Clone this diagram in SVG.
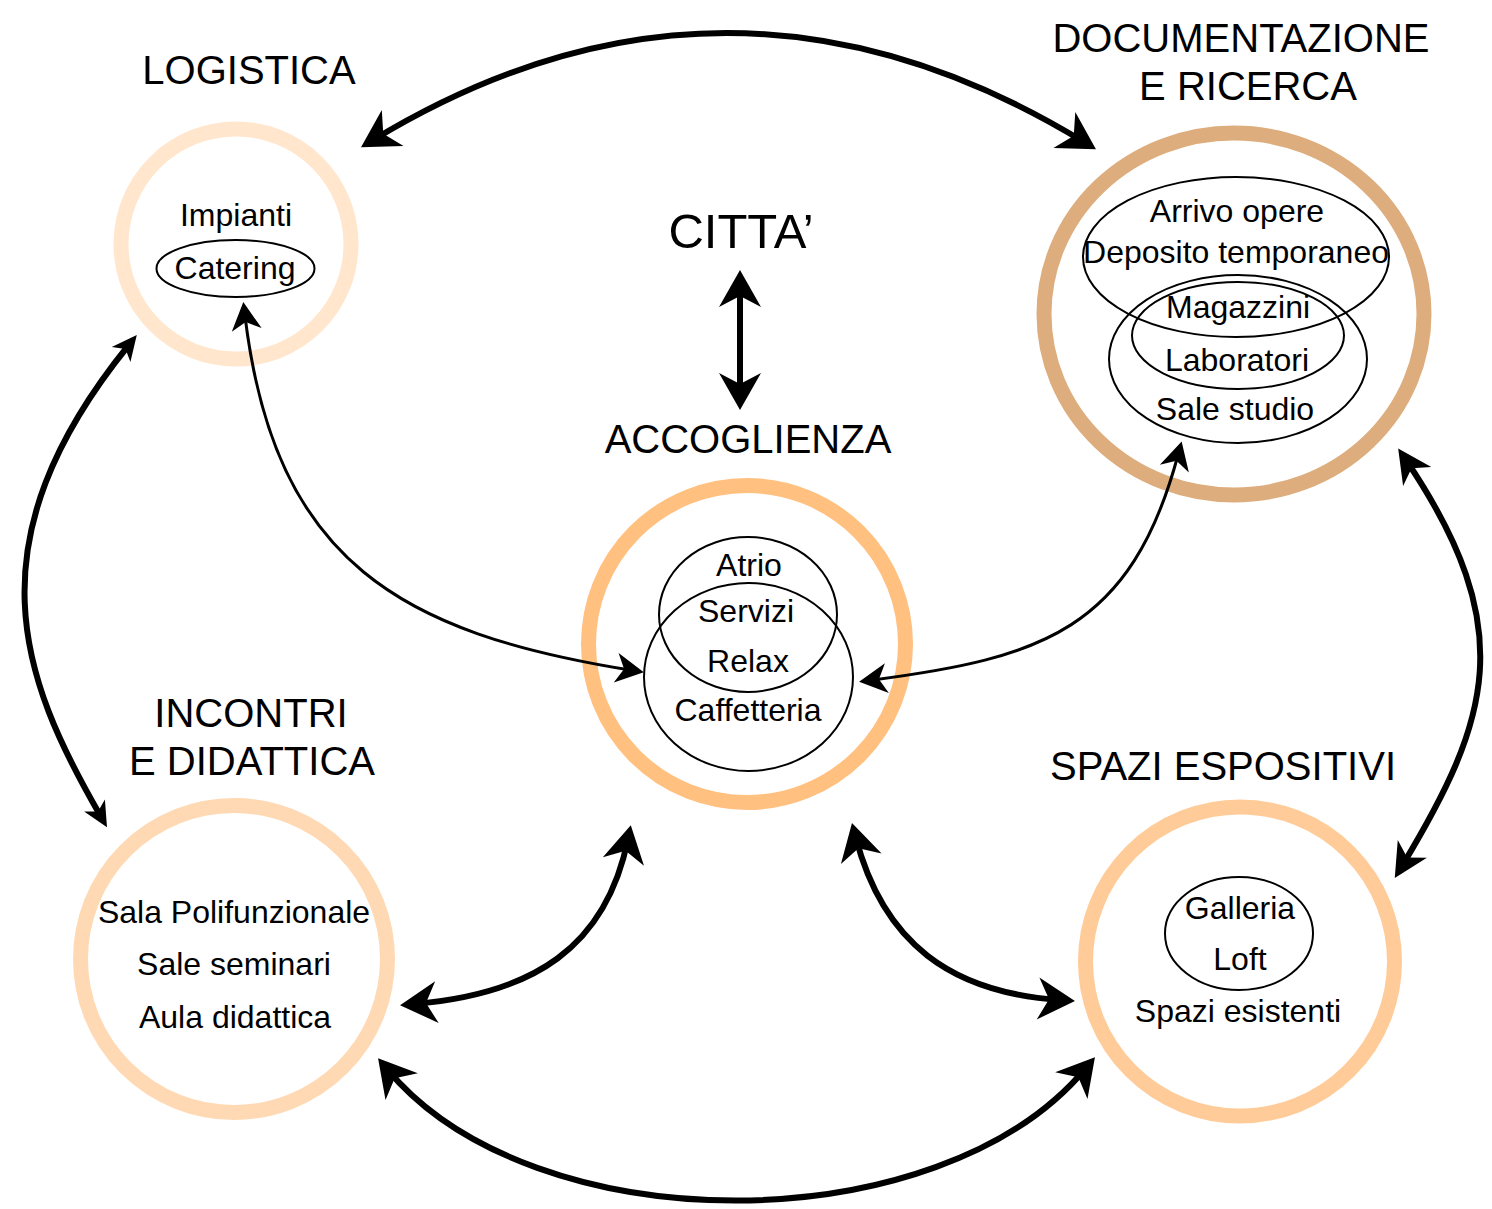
<svg xmlns="http://www.w3.org/2000/svg" width="1492" height="1209" viewBox="0 0 1492 1209">
<style>
text{font-family:"Liberation Sans",Arial,Helvetica,sans-serif;fill:#000;text-anchor:middle}
.title{font-size:40px}
.big{font-size:49px}
.in{font-size:32px}
.ring{fill:none;stroke-width:15}
.sub{fill:none;stroke:#000;stroke-width:2}
.thick{fill:none;stroke:#000;stroke-width:6}
.thin{fill:none;stroke:#000;stroke-width:3}
</style>
<defs>
<marker id="hb" viewBox="-38 -22 40 44" markerWidth="40" markerHeight="44" refX="-14" refY="0" orient="auto-start-reverse" markerUnits="userSpaceOnUse"><path d="M0,0 L-37,-21 L-26,0 L-37,21 Z" fill="#000"/></marker>
<marker id="hm" viewBox="-36 -18 38 36" markerWidth="38" markerHeight="36" refX="-14" refY="0" orient="auto-start-reverse" markerUnits="userSpaceOnUse"><path d="M0,0 L-34,-17 L-24,0 L-34,17 Z" fill="#000"/></marker>
<marker id="hs" viewBox="-26 -13 28 26" markerWidth="28" markerHeight="26" refX="-14" refY="0" orient="auto-start-reverse" markerUnits="userSpaceOnUse"><path d="M0,0 L-25,-12 L-18,0 L-25,12 Z" fill="#000"/></marker>
<marker id="ht" viewBox="-30 -16 32 32" markerWidth="32" markerHeight="32" refX="-14" refY="0" orient="auto-start-reverse" markerUnits="userSpaceOnUse"><path d="M0,0 L-28,-15 L-20,0 L-28,15 Z" fill="#000"/></marker>
</defs>

<g id="logistica">
<circle class="ring" cx="236" cy="244" r="115" stroke="#FFE6CC"/>
<text class="title" x="249" y="84">LOGISTICA</text>
<text class="in" x="236" y="226">Impianti</text>
<ellipse class="sub" cx="235.5" cy="268.5" rx="79" ry="28.5"/>
<text class="in" x="235" y="279">Catering</text>
</g>

<g id="documentazione">
<ellipse class="ring" cx="1234" cy="314" rx="190" ry="181" stroke="#DEAD7D"/>
<text class="title" x="1241" y="52">DOCUMENTAZIONE</text>
<text class="title" x="1248" y="100">E RICERCA</text>
<ellipse class="sub" cx="1236" cy="257" rx="153" ry="80"/>
<ellipse class="sub" cx="1238" cy="359" rx="129" ry="84"/>
<ellipse class="sub" cx="1238" cy="335.5" rx="106" ry="53.5"/>
<text class="in" x="1237" y="222">Arrivo opere</text>
<text class="in" x="1236" y="263">Deposito temporaneo</text>
<text class="in" x="1238" y="318">Magazzini</text>
<text class="in" x="1237" y="371">Laboratori</text>
<text class="in" x="1235" y="420">Sale studio</text>
</g>

<g id="citta">
<text class="big" x="741" y="248">CITTA’</text>
</g>

<g id="accoglienza">
<circle class="ring" cx="747" cy="644" r="158.5" stroke="#FFC080"/>
<text class="title" x="748" y="453">ACCOGLIENZA</text>
<ellipse class="sub" cx="748" cy="614.5" rx="89" ry="77.5"/>
<ellipse class="sub" cx="748.5" cy="677" rx="104.5" ry="94"/>
<text class="in" x="749" y="576">Atrio</text>
<text class="in" x="746" y="622">Servizi</text>
<text class="in" x="748" y="672">Relax</text>
<text class="in" x="748" y="721">Caffetteria</text>
</g>

<g id="incontri">
<circle class="ring" cx="234" cy="959" r="153.5" stroke="#FFD9B3"/>
<text class="title" x="251" y="727">INCONTRI</text>
<text class="title" x="252" y="775">E DIDATTICA</text>
<text class="in" x="234" y="923">Sala Polifunzionale</text>
<text class="in" x="234" y="975">Sale seminari</text>
<text class="in" x="235" y="1028">Aula didattica</text>
</g>

<g id="spazi">
<circle class="ring" cx="1240" cy="961.5" r="154.5" stroke="#FFCC99"/>
<text class="title" x="1223" y="780">SPAZI ESPOSITIVI</text>
<ellipse class="sub" cx="1239" cy="933.5" rx="74" ry="56.5"/>
<text class="in" x="1240" y="919">Galleria</text>
<text class="in" x="1240" y="970">Loft</text>
<text class="in" x="1238" y="1022">Spazi esistenti</text>
</g>

<g id="connectors">
<path class="thick" d="M373,140 Q728,-75 1084,142" marker-start="url(#hb)" marker-end="url(#hb)"/>
<path class="thick" d="M740,284 L740,396" stroke-width="7" marker-start="url(#hb)" marker-end="url(#hb)"/>
<path class="thick" d="M128,346 C-31,543 21,678 100,815" marker-start="url(#hs)" marker-end="url(#hs)"/>
<path class="thick" d="M1406,460 C1520,629 1490,720 1402,866" marker-start="url(#hm)" marker-end="url(#hm)"/>
<path class="thick" d="M387,1069 C533,1245 940,1244 1086,1068" marker-start="url(#hb)" marker-end="url(#hb)"/>
<path class="thick" d="M414,1004 C534,994 606,947 628,839" marker-start="url(#hb)" marker-end="url(#hb)"/>
<path class="thick" d="M855.5,836.6 C883,943 951,993 1061,1000" marker-start="url(#hb)" marker-end="url(#hb)"/>
<path class="thin" d="M245,316 C275,563 402,633 630,670" marker-start="url(#ht)" marker-end="url(#ht)"/>
<path class="thin" d="M1178,455 C1131,630 1041,658 873,680" marker-start="url(#ht)" marker-end="url(#ht)"/>
</g>
</svg>
